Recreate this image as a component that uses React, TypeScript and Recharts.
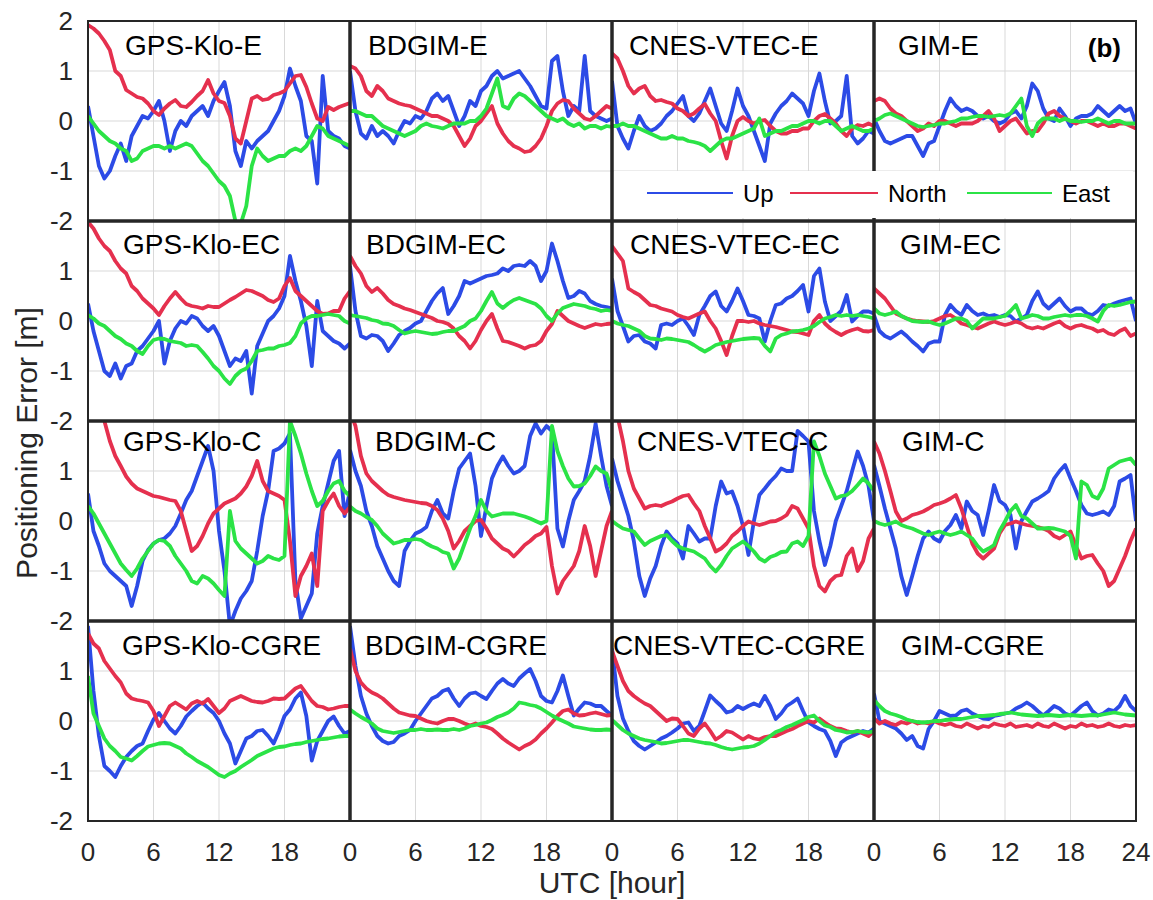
import { LineChart, Line, XAxis, YAxis, CartesianGrid } from 'recharts';

const HOURS = [
  0, 0.5, 1, 1.5, 2, 2.5, 3, 3.5, 4, 4.5, 5, 5.5,
  6, 6.5, 7, 7.5, 8, 8.5, 9, 9.5, 10, 10.5, 11, 11.5,
  12, 12.5, 13, 13.5, 14, 14.5, 15, 15.5, 16, 16.5, 17, 17.5,
  18, 18.5, 19, 19.5, 20, 20.5, 21, 21.5, 22, 22.5, 23, 23.5, 24,
];

// ---- row 1: E ----
const GPS_KLO_E_UP = [
  0.3, -0.3, -0.9, -1.15, -1.0, -0.7, -0.45, -0.8, -0.3, -0.1, 0.1, 0.05,
  0.2, 0.4, 0.0, -0.6, -0.2, 0.0, -0.1, 0.1, 0.2, 0.3, 0.1, 0.4,
  0.6, 0.78, 0.3, -0.6, -0.9, -0.4, -0.55, -0.4, -0.3, -0.2, 0.0, 0.2,
  0.5, 1.05, 0.7, 0.4, -0.3, -0.4, -1.25, 0.9, -0.2, -0.3, -0.35, -0.5, -0.55,
];
const GPS_KLO_E_NORTH = [
  1.92, 1.85, 1.75, 1.6, 1.42, 1.0, 0.9, 0.62, 0.55, 0.48, 0.45, 0.35,
  0.2, 0.12, 0.25, 0.35, 0.42, 0.3, 0.28, 0.38, 0.5, 0.6, 0.82, 0.55,
  0.4, 0.36, 0.1, -0.35, -0.45, 0.0, 0.45, 0.5, 0.42, 0.44, 0.52, 0.55,
  0.6, 0.75, 0.9, 0.92, 0.68, 0.35, 0.05, 0.0, 0.28, 0.22, 0.28, 0.32, 0.36,
];
const GPS_KLO_E_EAST = [
  0.1, -0.05, -0.2, -0.3, -0.4, -0.45, -0.55, -0.6, -0.8, -0.75, -0.6, -0.55,
  -0.5, -0.5, -0.55, -0.5, -0.55, -0.5, -0.45, -0.5, -0.65, -0.8, -0.9, -1.05,
  -1.2, -1.3, -1.5, -2.0, -2.05, -1.7, -0.9, -0.55, -0.7, -0.8, -0.75, -0.7,
  -0.7, -0.6, -0.55, -0.6, -0.5, -0.3, -0.1, -0.15, -0.3, -0.35, -0.4, -0.45, -0.5,
];
const BDGIM_E_UP = [
  1.0, 0.2, -0.25, -0.35, -0.1, -0.3, -0.2, -0.3, -0.45, -0.2, 0.0, -0.05,
  0.1, 0.05, 0.2, 0.45, 0.55, 0.4, 0.5, 0.2, -0.1, 0.1, 0.4, 0.3,
  0.6, 0.7, 0.9, 1.0, 0.85, 0.9, 0.95, 1.0, 0.85, 0.7, 0.5, 0.3,
  0.25, 1.2, 1.3, 0.6, 0.1, 0.3, 0.2, 1.3, 0.2, 0.1, 0.05, 0.0, 0.05,
];
const BDGIM_E_NORTH = [
  1.1, 1.05, 0.9, 0.6, 0.5, 0.7, 0.6, 0.45, 0.4, 0.35, 0.32, 0.3,
  0.25, 0.2, 0.15, 0.1, 0.1, 0.05, 0.0, -0.1, -0.3, -0.5, -0.35, -0.1,
  0.0, 0.15, 0.3, -0.05, -0.25, -0.4, -0.5, -0.55, -0.62, -0.6, -0.5, -0.35,
  -0.1, 0.2, 0.35, 0.42, 0.4, 0.25, 0.15, 0.05, 0.02, 0.1, 0.2, 0.3, 0.25,
];
const BDGIM_E_EAST = [
  0.2, 0.2, 0.15, 0.1, 0.1, 0.0, -0.1, -0.15, -0.2, -0.25, -0.3, -0.25,
  -0.2, -0.1, -0.05, -0.1, -0.12, -0.15, -0.1, -0.05, -0.05, -0.05, 0.0, 0.0,
  0.1, 0.25, 0.55, 0.85, 0.3, 0.25, 0.45, 0.55, 0.5, 0.4, 0.3, 0.2,
  0.1, 0.05, 0.0, 0.05, -0.05, -0.1, -0.05, -0.15, -0.1, -0.1, -0.15, -0.1, -0.12,
];
const CNES_E_UP = [
  0.8, -0.1, -0.35, -0.55, -0.2, 0.1, -0.1, -0.2, -0.15, -0.05, 0.1, 0.2,
  0.35, 0.5, 0.1, 0.0, 0.15, 0.4, 0.65, 0.3, -0.05, -0.2, 0.2, 0.65,
  0.3, 0.1, -0.2, -0.5, -0.8, -0.05, 0.15, 0.3, 0.4, 0.55, 0.45, 0.35,
  0.1, 0.6, 0.95, 0.4, -0.05, 0.0, 0.1, 0.9, -0.3, -0.45, -0.35, -0.2, -0.25,
];
const CNES_E_NORTH = [
  1.35, 1.25, 1.0, 0.7, 0.55, 0.65, 0.7, 0.5, 0.4, 0.42, 0.38, 0.35,
  0.25, 0.2, 0.1, 0.15, 0.25, 0.34, 0.15, 0.0, -0.4, -0.75, -0.3, 0.0,
  0.08, 0.0, -0.05, 0.0, 0.02, -0.1, -0.2, -0.25, -0.25, -0.2, -0.2, -0.15,
  -0.15, 0.0, 0.1, 0.14, 0.05, -0.05, -0.2, -0.3, -0.15, -0.08, -0.1, -0.05, -0.1,
];
const CNES_E_EAST = [
  -0.1, -0.1, -0.05, -0.1, -0.1, -0.15, -0.2, -0.25, -0.3, -0.35, -0.35, -0.3,
  -0.35, -0.35, -0.4, -0.42, -0.45, -0.5, -0.6, -0.5, -0.4, -0.35, -0.35, -0.3,
  -0.25, -0.2, -0.15, 0.05, -0.3, -0.25, -0.2, -0.2, -0.15, -0.1, -0.1, -0.05,
  0.0, 0.0, -0.05, 0.0, 0.0, -0.1, -0.2, -0.15, -0.1, -0.15, -0.2, -0.2, -0.15,
];
const GIM_E_UP = [
  0.05, -0.2, -0.4, -0.45, -0.4, -0.35, -0.3, -0.3, -0.5, -0.7, -0.45, -0.4,
  -0.1, 0.2, 0.45, 0.3, 0.2, 0.25, 0.2, 0.1, 0.05, 0.1, 0.0, -0.05,
  0.0, 0.15, 0.2, 0.05, 0.3, 0.75, 0.6, 0.25, 0.05, 0.0, 0.25, 0.1,
  -0.1, 0.05, 0.1, 0.1, 0.15, 0.3, 0.2, 0.1, 0.2, 0.3, 0.2, 0.25, -0.05,
];
const GIM_E_NORTH = [
  0.4, 0.45, 0.4, 0.25, 0.15, 0.1, 0.0, -0.1, -0.2, -0.15, -0.05, -0.1,
  0.0, 0.0, -0.05, -0.1, -0.05, -0.05, -0.05, 0.0, 0.1, 0.2, 0.05, -0.2,
  -0.1, 0.0, 0.05, -0.1, -0.25, -0.2, -0.2, -0.05, 0.15, 0.2, 0.1, 0.05,
  0.0, -0.05, 0.0, 0.0, -0.05, -0.1, -0.05, -0.1, -0.1, -0.05, -0.05, -0.1, -0.15,
];
const GIM_E_EAST = [
  0.0, 0.05, 0.12, 0.15, 0.1, 0.05, 0.0, -0.05, -0.1, -0.12, -0.1, -0.08,
  -0.05, -0.05, -0.02, 0.0, 0.05, 0.05, 0.08, 0.1, 0.1, 0.08, 0.1, 0.12,
  0.1, 0.15, 0.3, 0.45, -0.1, -0.3, -0.05, 0.05, 0.05, 0.05, 0.0, 0.05,
  0.0, 0.0, -0.02, 0.0, 0.0, 0.05, 0.0, -0.05, 0.0, 0.0, -0.05, -0.05, -0.05,
];

// ---- row 2: EC ----
const GPS_KLO_EC_UP = [
  0.35, -0.2, -0.6, -1.0, -1.1, -0.85, -1.15, -0.9, -0.85, -0.6, -0.5, -0.35,
  -0.2, 0.0, -0.85, -0.4, -0.15, 0.0, -0.05, 0.1, 0.05, -0.1, -0.2, -0.1,
  -0.3, -0.6, -0.9, -0.75, -0.8, -0.6, -1.45, -0.5, -0.25, 0.0, 0.1, 0.25,
  0.5, 1.3, 0.8, 0.4, -0.1, -0.9, 0.4, -0.2, -0.3, -0.4, -0.45, -0.55, -0.45,
];
const GPS_KLO_EC_NORTH = [
  1.98, 1.85, 1.65, 1.5, 1.4, 1.2, 1.05, 0.95, 0.7, 0.6, 0.45, 0.35,
  0.25, 0.12, 0.3, 0.45, 0.58, 0.45, 0.34, 0.3, 0.28, 0.25, 0.3, 0.28,
  0.28, 0.35, 0.42, 0.48, 0.55, 0.62, 0.6, 0.55, 0.5, 0.42, 0.38, 0.45,
  0.7, 0.86, 0.6, 0.5, 0.4, 0.3, 0.2, 0.14, 0.15, 0.2, 0.2, 0.45, 0.6,
];
const GPS_KLO_EC_EAST = [
  0.12, 0.05, -0.05, -0.1, -0.2, -0.3, -0.36, -0.45, -0.5, -0.6, -0.66, -0.5,
  -0.38, -0.35, -0.36, -0.4, -0.42, -0.44, -0.5, -0.48, -0.5, -0.62, -0.75, -0.9,
  -1.0, -1.15, -1.26, -1.1, -1.0, -0.95, -0.8, -0.6, -0.58, -0.55, -0.55, -0.5,
  -0.48, -0.44, -0.3, -0.05, 0.05, 0.1, 0.1, 0.12, 0.14, 0.12, 0.1, 0.0, -0.05,
];
const BDGIM_EC_UP = [
  1.1, 0.2, -0.3, -0.35, -0.28, -0.3, -0.4, -0.6, -0.45, -0.28, -0.2, -0.14,
  -0.05, 0.0, 0.2, 0.4, 0.55, 0.66, 0.14, 0.3, 0.5, 0.8, 0.75, 0.8,
  0.85, 0.9, 0.92, 0.95, 1.05, 1.0, 1.1, 1.12, 1.1, 1.2, 1.1, 0.8,
  1.0, 1.55, 1.2, 0.8, 0.46, 0.5, 0.6, 0.55, 0.4, 0.34, 0.3, 0.28, 0.25,
];
const BDGIM_EC_NORTH = [
  1.3, 1.1, 0.95, 0.7, 0.58, 0.66, 0.55, 0.42, 0.34, 0.3, 0.25, 0.22,
  0.18, 0.14, 0.1, 0.06, 0.0, -0.02, -0.06, -0.15, -0.3, -0.4, -0.55, -0.4,
  -0.18, 0.0, 0.14, -0.15, -0.4, -0.42, -0.46, -0.5, -0.55, -0.5, -0.48, -0.4,
  -0.2, -0.06, 0.2, 0.1, 0.0, -0.05, -0.1, -0.14, -0.1, -0.06, -0.08, -0.06, -0.05,
];
const BDGIM_EC_EAST = [
  0.12, 0.1, 0.08, 0.06, 0.02, 0.0, -0.05, -0.06, -0.1, -0.18, -0.25, -0.22,
  -0.2, -0.22, -0.24, -0.26, -0.25, -0.22, -0.2, -0.2, -0.15, -0.1, 0.0, 0.05,
  0.2, 0.4, 0.58, 0.35, 0.26, 0.35, 0.42, 0.46, 0.42, 0.38, 0.34, 0.25,
  0.1, 0.0, 0.15, 0.26, 0.3, 0.34, 0.32, 0.3, 0.26, 0.24, 0.2, 0.22, 0.2,
];
const CNES_EC_UP = [
  0.85, 0.2, -0.1, -0.41, -0.3, -0.28, -0.41, -0.45, -0.55, -0.08, -0.05, -0.08,
  0.0, 0.05, -0.1, -0.28, 0.12, 0.3, 0.5, 0.59, 0.3, 0.19, 0.4, 0.65,
  0.4, 0.12, 0.1, 0.05, -0.41, 0.0, 0.32, 0.35, 0.45, 0.5, 0.6, 0.72,
  0.19, 0.9, 1.05, 0.39, 0.0, 0.1, 0.2, 0.52, -0.01, 0.1, 0.19, 0.19, 0.15,
];
const CNES_EC_NORTH = [
  1.5, 1.35, 1.2, 0.65, 0.58, 0.52, 0.42, 0.32, 0.3, 0.25, 0.22, 0.19,
  0.12, 0.08, 0.05, 0.1, 0.15, 0.19, 0.0, -0.15, -0.4, -0.68, -0.3, 0.0,
  0.0, -0.02, 0.0, -0.05, -0.08, -0.1, -0.12, -0.15, -0.18, -0.21, -0.22, -0.25,
  -0.28, 0.0, 0.12, -0.05, -0.15, -0.22, -0.28, -0.22, -0.18, -0.15, -0.2, -0.21, -0.18,
];
const CNES_EC_EAST = [
  0.0, -0.05, -0.08, -0.1, -0.15, -0.2, -0.3, -0.35, -0.36, -0.38, -0.35, -0.36,
  -0.38, -0.4, -0.42, -0.48, -0.55, -0.61, -0.55, -0.48, -0.45, -0.42, -0.4, -0.38,
  -0.36, -0.35, -0.34, -0.35, -0.5, -0.61, -0.35, -0.28, -0.25, -0.21, -0.2, -0.18,
  -0.15, -0.1, -0.02, 0.05, 0.08, 0.12, 0.1, 0.12, 0.1, 0.12, 0.1, 0.08, 0.05,
];
const GIM_EC_UP = [
  0.12, -0.2, -0.3, -0.35, -0.28, -0.21, -0.3, -0.41, -0.5, -0.61, -0.45, -0.41,
  -0.41, 0.12, 0.32, 0.2, 0.12, 0.32, 0.2, 0.12, 0.15, 0.1, 0.12, 0.08,
  0.12, 0.1, -0.01, 0.05, 0.12, 0.4, 0.59, 0.35, 0.25, 0.35, 0.45, 0.3,
  0.19, 0.25, 0.25, 0.15, 0.12, 0.2, 0.32, 0.3, 0.35, 0.39, 0.42, 0.45, 0.0,
];
const GIM_EC_NORTH = [
  0.65, 0.55, 0.45, 0.3, 0.15, 0.1, 0.05, 0.02, 0.0, -0.01, -0.02, 0.0,
  0.05, 0.1, 0.12, 0.05, -0.05, -0.08, -0.12, -0.15, -0.1, -0.05, -0.01, -0.05,
  -0.08, -0.05, -0.01, -0.05, -0.12, -0.15, -0.12, -0.15, -0.1, -0.05, -0.01, -0.1,
  -0.15, -0.1, -0.08, -0.12, -0.15, -0.21, -0.18, -0.25, -0.28, -0.2, -0.15, -0.3, -0.25,
];
const GIM_EC_EAST = [
  0.25, 0.15, 0.12, 0.15, 0.19, 0.1, 0.05, 0.0, -0.01, -0.02, -0.01, -0.05,
  -0.08, -0.05, 0.0, 0.05, 0.05, 0.0, -0.15, -0.05, 0.05, 0.05, 0.05, 0.08,
  0.1, 0.2, 0.32, 0.05, 0.08, 0.12, 0.1, 0.05, 0.05, 0.08, 0.1, 0.12,
  0.1, 0.12, 0.12, 0.1, 0.05, -0.01, 0.2, 0.32, 0.3, 0.32, 0.35, 0.38, 0.39,
];

// ---- row 3: C ----
const GPS_KLO_C_UP = [
  0.55, -0.2, -0.5, -0.85, -1.0, -1.1, -1.2, -1.3, -1.7, -1.3, -0.8, -0.58,
  -0.45, -0.38, -0.35, -0.25, -0.1, 0.15, 0.42, 0.6, 0.9, 1.2, 1.5, 1.0,
  -0.2, -1.0, -2.1, -1.8, -1.55, -1.4, -1.2, -0.6, 0.1, 0.6, 1.4, 1.45,
  1.55, 1.75, -1.2, -1.95, -1.7, -1.45, -0.25, 0.3, 0.75, 1.2, 1.4, 0.1, 0.6,
];
const GPS_KLO_C_NORTH = [
  2.3, 2.2, 2.1, 2.0, 1.6, 1.3, 1.1, 0.89, 0.75, 0.65, 0.6, 0.55,
  0.5, 0.48, 0.45, 0.42, 0.4, 0.2, -0.2, -0.6, -0.5, -0.3, -0.05, 0.15,
  0.25, 0.35, 0.4, 0.45, 0.55, 0.69, 0.9, 1.2, 0.8, 0.6, 0.55, 0.5,
  0.42, -0.4, -1.5, -1.1, -0.9, -0.65, -1.3, 0.2, 0.4, 0.55, 0.3, 0.15, 0.28,
];
const GPS_KLO_C_EAST = [
  0.3, 0.15, -0.05, -0.25, -0.45, -0.65, -0.85, -0.98, -1.1, -0.95, -0.75, -0.6,
  -0.45, -0.38, -0.4, -0.5, -0.7, -0.85, -1.0, -1.2, -1.25, -1.1, -1.15, -1.25,
  -1.38, -1.5, 0.2, -0.4, -0.55, -0.65, -0.75, -0.85, -0.8, -0.7, -0.75, -0.78,
  -0.7, 2.0, 1.7, 1.35, 0.95, 0.6, 0.3, 0.4, 0.6, 0.75, 0.8, 0.6, 0.5,
];
const BDGIM_C_UP = [
  1.42, 1.0, 0.7, 0.2, -0.1, -0.5, -0.75, -1.0, -1.2, -1.3, -0.6, -0.4,
  -0.25, -0.2, -0.12, 0.2, 0.42, 0.15, 0.05, 0.6, 1.05, 1.2, 1.35, 0.7,
  -0.3, 0.3, 0.85, 1.1, 1.29, 1.1, 0.95, 1.0, 1.1, 1.7, 1.95, 1.75,
  1.9, 1.8, -0.15, -0.51, 0.0, 0.42, 0.6, 0.8, 1.3, 1.95, 1.3, 0.7, 0.3,
];
const BDGIM_C_NORTH = [
  2.2, 1.9, 1.3, 0.95, 0.8, 0.7, 0.6, 0.52, 0.48, 0.45, 0.42, 0.4,
  0.38, 0.36, 0.35, 0.3, 0.22, 0.05, -0.2, -0.55, -0.4, -0.2, -0.1, 0.0,
  0.02, -0.15, -0.35, -0.45, -0.55, -0.6, -0.71, -0.6, -0.48, -0.4, -0.3, -0.25,
  -0.12, -0.9, -1.45, -1.2, -1.05, -0.9, -0.6, -0.1, -0.5, -1.1, -0.6, -0.1, 0.2,
];
const BDGIM_C_EAST = [
  0.29, 0.2, 0.15, 0.08, 0.02, -0.1, -0.25, -0.35, -0.45, -0.42, -0.38, -0.38,
  -0.36, -0.38, -0.45, -0.51, -0.55, -0.62, -0.65, -0.95, -0.75, -0.45, -0.15, 0.1,
  0.42, 0.2, 0.09, 0.12, 0.15, 0.15, 0.15, 0.12, 0.09, 0.05, 0.0, -0.05,
  0.0, 1.9, 1.4, 1.1, 0.85, 0.69, 0.7, 0.75, 0.9, 1.09, 1.0, 0.95, 0.6,
];
const CNES_C_UP = [
  1.25, 0.8, 0.45, 0.1, -0.4, -1.1, -1.5, -1.15, -0.9, -0.5, -0.21, -0.35,
  -0.45, -0.75, -0.1, -0.25, -0.41, -0.35, -0.35, 0.3, 0.79, 0.55, 0.59, 0.3,
  -0.1, -0.68, 0.0, 0.52, 0.65, 0.79, 0.9, 1.05, 1.0, 1.0, 1.8, 1.7,
  1.59, 0.2, -0.4, -0.88, -0.5, 0.0, 0.3, 0.6, 1.0, 1.39, 1.1, 0.7, 0.0,
];
const CNES_C_NORTH = [
  2.3, 2.1, 1.6, 1.0, 0.65, 0.45, 0.25, 0.3, 0.32, 0.3, 0.35, 0.39,
  0.45, 0.5, 0.52, 0.35, 0.2, -0.1, -0.35, -0.61, -0.55, -0.45, -0.3, -0.21,
  -0.1, -0.01, -0.05, -0.08, -0.05, -0.01, 0.0, 0.05, 0.12, 0.3, 0.25, 0.05,
  -0.15, -0.9, -1.3, -1.41, -1.2, -1.1, -1.08, -0.7, -0.55, -1.0, -0.8, -0.35, -0.15,
];
const CNES_C_EAST = [
  0.0, -0.08, -0.15, -0.18, -0.21, -0.35, -0.48, -0.4, -0.35, -0.3, -0.28, -0.4,
  -0.5, -0.55, -0.58, -0.61, -0.68, -0.75, -0.9, -1.01, -0.88, -0.7, -0.55, -0.48,
  -0.41, -0.5, -0.61, -0.75, -0.81, -0.72, -0.68, -0.62, -0.61, -0.45, -0.41, -0.5,
  -0.3, 1.59, 1.3, 0.95, 0.7, 0.45, 0.5, 0.52, 0.6, 0.72, 0.85, 0.75, 0.6,
];
const GIM_C_UP = [
  1.12, 0.7, 0.25, -0.15, -0.55, -1.1, -1.48, -1.1, -0.7, -0.35, -0.21, -0.35,
  -0.41, -0.2, -0.08, 0.12, -0.15, 0.39, 0.2, 0.12, -0.28, 0.2, 0.72, 0.4,
  0.32, 0.12, -0.55, 0.0, 0.2, 0.39, 0.45, 0.52, 0.6, 0.85, 1.0, 1.12,
  0.85, 0.6, 0.32, 0.15, 0.12, 0.15, 0.19, 0.12, 0.3, 0.79, 0.85, 0.92, 0.0,
];
const GIM_C_NORTH = [
  1.59, 1.35, 1.0, 0.6, 0.19, 0.0, 0.05, 0.12, 0.15, 0.19, 0.25, 0.32,
  0.35, 0.39, 0.45, 0.52, 0.25, -0.1, -0.45, -0.65, -0.75, -0.65, -0.55, -0.25,
  -0.08, -0.05, -0.01, -0.05, -0.08, -0.1, -0.12, -0.15, -0.2, -0.3, -0.35, -0.28,
  -0.21, -0.5, -0.75, -0.7, -0.68, -0.85, -1.0, -1.3, -1.2, -0.95, -0.7, -0.4, -0.15,
];
const GIM_C_EAST = [
  0.0, -0.05, -0.08, -0.05, -0.01, -0.08, -0.12, -0.15, -0.2, -0.25, -0.28, -0.24,
  -0.21, -0.25, -0.28, -0.25, -0.21, -0.28, -0.35, -0.5, -0.61, -0.55, -0.48, -0.2,
  -0.01, 0.2, 0.32, 0.1, 0.05, -0.05, -0.15, -0.15, -0.14, -0.15, -0.18, -0.21,
  -0.3, -0.75, 0.79, 0.72, 0.5, 0.45, 0.65, 1.05, 1.12, 1.19, 1.22, 1.25, 1.12,
];

// ---- row 4: CGRE ----
const GPS_KLO_CGRE_UP = [
  1.9, 0.6, -0.3, -0.9, -1.0, -1.12, -0.9, -0.72, -0.6, -0.5, -0.45, -0.2,
  0.03, 0.16, 0.0, -0.15, -0.25, -0.1, 0.09, 0.2, 0.3, 0.37, 0.25, 0.16,
  0.0, -0.25, -0.45, -0.85, -0.6, -0.35, -0.3, -0.2, -0.18, -0.3, -0.45, -0.2,
  0.1, 0.23, 0.45, 0.57, 0.1, -0.79, -0.4, -0.2, 0.0, 0.09, -0.1, -0.25, -0.2,
];
const GPS_KLO_CGRE_NORTH = [
  1.75, 1.55, 1.45, 1.2, 1.05, 0.9, 0.77, 0.55, 0.45, 0.42, 0.4, 0.37,
  0.2, -0.1, 0.1, 0.3, 0.37, 0.3, 0.23, 0.35, 0.4, 0.35, 0.44, 0.3,
  0.16, 0.25, 0.4, 0.45, 0.5, 0.45, 0.4, 0.38, 0.37, 0.4, 0.45, 0.44,
  0.45, 0.55, 0.65, 0.7, 0.55, 0.4, 0.3, 0.28, 0.23, 0.25, 0.28, 0.3, 0.3,
];
const GPS_KLO_CGRE_EAST = [
  0.9, 0.15, -0.1, -0.35, -0.5, -0.6, -0.72, -0.75, -0.79, -0.7, -0.6, -0.51,
  -0.48, -0.45, -0.44, -0.45, -0.5, -0.55, -0.65, -0.72, -0.8, -0.86, -0.92, -1.0,
  -1.08, -1.12, -1.05, -1.0, -0.92, -0.85, -0.78, -0.7, -0.65, -0.6, -0.55, -0.52,
  -0.51, -0.48, -0.46, -0.45, -0.42, -0.4, -0.38, -0.36, -0.35, -0.33, -0.31, -0.3, -0.3,
];
const BDGIM_CGRE_UP = [
  1.9, 1.1, 0.5, 0.15, -0.1, -0.3, -0.4, -0.45, -0.42, -0.3, -0.25, -0.18,
  0.0, 0.15, 0.3, 0.45, 0.5, 0.6, 0.64, 0.45, 0.3, 0.45, 0.55, 0.57,
  0.5, 0.44, 0.6, 0.75, 0.84, 0.75, 0.7, 0.85, 0.95, 1.04, 0.8, 0.5,
  0.4, 0.37, 0.6, 0.91, 0.5, 0.11, 0.25, 0.37, 0.35, 0.3, 0.3, 0.2, 0.11,
];
const BDGIM_CGRE_NORTH = [
  1.45, 1.0, 0.77, 0.65, 0.57, 0.52, 0.45, 0.35, 0.25, 0.17, 0.14, 0.11,
  0.1, 0.05, 0.0, -0.03, -0.05, 0.0, 0.04, 0.04, 0.0, -0.05, -0.09, -0.05,
  -0.1, -0.12, -0.16, -0.25, -0.35, -0.43, -0.5, -0.57, -0.5, -0.45, -0.37, -0.25,
  -0.15, -0.03, 0.1, 0.2, 0.23, 0.15, 0.11, 0.12, 0.15, 0.17, 0.14, 0.11, 0.12,
];
const BDGIM_CGRE_EAST = [
  0.23, 0.15, 0.08, 0.02, -0.05, -0.15, -0.2, -0.22, -0.24, -0.22, -0.2, -0.18,
  -0.18, -0.16, -0.18, -0.18, -0.17, -0.18, -0.18, -0.16, -0.18, -0.15, -0.1, -0.08,
  -0.05, -0.03, 0.02, 0.08, 0.12, 0.17, 0.25, 0.37, 0.35, 0.32, 0.3, 0.25,
  0.18, 0.11, 0.05, 0.0, -0.05, -0.11, -0.13, -0.15, -0.17, -0.18, -0.18, -0.17, -0.18,
];
const CNES_CGRE_UP = [
  1.45, 0.5, 0.05, -0.2, -0.4, -0.5, -0.57, -0.5, -0.43, -0.35, -0.3, -0.23,
  -0.15, -0.05, -0.03, -0.2, -0.1, 0.2, 0.51, 0.4, 0.3, 0.17, 0.2, 0.3,
  0.24, 0.3, 0.35, 0.3, 0.5, 0.3, 0.04, 0.15, 0.3, 0.37, 0.45, 0.2,
  -0.03, -0.1, -0.16, -0.2, -0.4, -0.7, -0.43, -0.35, -0.3, -0.25, -0.2, -0.23, -0.15,
];
const CNES_CGRE_NORTH = [
  1.4, 1.1, 0.8, 0.6, 0.5, 0.42, 0.35, 0.3, 0.2, 0.1, 0.0, 0.05,
  0.04, -0.1, -0.25, -0.3, -0.15, -0.05, -0.2, -0.37, -0.3, -0.2, -0.23, -0.3,
  -0.37, -0.3, -0.35, -0.37, -0.32, -0.3, -0.3, -0.25, -0.2, -0.16, -0.1, -0.05,
  0.0, -0.03, 0.05, -0.03, -0.1, -0.15, -0.16, -0.2, -0.23, -0.2, -0.25, -0.3, -0.2,
];
const CNES_CGRE_EAST = [
  0.02, -0.08, -0.18, -0.25, -0.3, -0.35, -0.38, -0.4, -0.42, -0.45, -0.44, -0.42,
  -0.4, -0.38, -0.38, -0.4, -0.42, -0.44, -0.45, -0.48, -0.52, -0.55, -0.57, -0.55,
  -0.53, -0.52, -0.5, -0.45, -0.38, -0.3, -0.22, -0.18, -0.12, -0.08, -0.03, 0.02,
  0.08, 0.11, 0.0, -0.09, -0.12, -0.18, -0.2, -0.23, -0.22, -0.2, -0.22, -0.23, -0.2,
];
const GIM_CGRE_UP = [
  0.55, 0.0, -0.05, -0.1, -0.15, -0.25, -0.38, -0.3, -0.5, -0.55, -0.16, 0.0,
  0.2, 0.15, 0.1, 0.11, 0.2, 0.23, 0.15, 0.1, 0.05, 0.04, 0.1, 0.12,
  0.15, 0.17, 0.25, 0.3, 0.37, 0.3, 0.2, 0.11, 0.2, 0.3, 0.25, 0.15,
  0.11, 0.2, 0.3, 0.37, 0.2, 0.11, 0.15, 0.23, 0.2, 0.3, 0.5, 0.3, 0.2,
];
const GIM_CGRE_NORTH = [
  0.05, -0.05, 0.0, -0.05, -0.08, -0.02, -0.05, 0.0, -0.05, -0.03, -0.05, 0.0,
  -0.05, -0.08, -0.05, -0.1, -0.12, -0.05, -0.1, -0.15, -0.1, -0.12, -0.05, -0.08,
  -0.1, -0.05, -0.12, -0.1, -0.08, -0.12, -0.05, -0.1, -0.12, -0.05, -0.1, -0.15,
  -0.1, -0.12, -0.05, -0.1, -0.08, -0.12, -0.1, -0.05, -0.1, -0.12, -0.08, -0.1, -0.08,
];
const GIM_CGRE_EAST = [
  0.42, 0.3, 0.2, 0.15, 0.12, 0.08, 0.03, 0.0, -0.02, -0.03, -0.02, 0.0,
  0.0, 0.02, 0.03, 0.04, 0.04, 0.06, 0.08, 0.1, 0.1, 0.11, 0.12, 0.14,
  0.15, 0.17, 0.15, 0.13, 0.12, 0.11, 0.1, 0.11, 0.12, 0.11, 0.1, 0.11,
  0.12, 0.11, 0.1, 0.11, 0.12, 0.11, 0.13, 0.15, 0.17, 0.15, 0.13, 0.12, 0.11,
];

const TITLES = [
  ['GPS-Klo-E', 'BDGIM-E', 'CNES-VTEC-E', 'GIM-E'],
  ['GPS-Klo-EC', 'BDGIM-EC', 'CNES-VTEC-EC', 'GIM-EC'],
  ['GPS-Klo-C', 'BDGIM-C', 'CNES-VTEC-C', 'GIM-C'],
  ['GPS-Klo-CGRE', 'BDGIM-CGRE', 'CNES-VTEC-CGRE', 'GIM-CGRE'],
];

// [up, north, east] per panel
const SERIES = [
  [
    [GPS_KLO_E_UP, GPS_KLO_E_NORTH, GPS_KLO_E_EAST],
    [BDGIM_E_UP, BDGIM_E_NORTH, BDGIM_E_EAST],
    [CNES_E_UP, CNES_E_NORTH, CNES_E_EAST],
    [GIM_E_UP, GIM_E_NORTH, GIM_E_EAST],
  ],
  [
    [GPS_KLO_EC_UP, GPS_KLO_EC_NORTH, GPS_KLO_EC_EAST],
    [BDGIM_EC_UP, BDGIM_EC_NORTH, BDGIM_EC_EAST],
    [CNES_EC_UP, CNES_EC_NORTH, CNES_EC_EAST],
    [GIM_EC_UP, GIM_EC_NORTH, GIM_EC_EAST],
  ],
  [
    [GPS_KLO_C_UP, GPS_KLO_C_NORTH, GPS_KLO_C_EAST],
    [BDGIM_C_UP, BDGIM_C_NORTH, BDGIM_C_EAST],
    [CNES_C_UP, CNES_C_NORTH, CNES_C_EAST],
    [GIM_C_UP, GIM_C_NORTH, GIM_C_EAST],
  ],
  [
    [GPS_KLO_CGRE_UP, GPS_KLO_CGRE_NORTH, GPS_KLO_CGRE_EAST],
    [BDGIM_CGRE_UP, BDGIM_CGRE_NORTH, BDGIM_CGRE_EAST],
    [CNES_CGRE_UP, CNES_CGRE_NORTH, CNES_CGRE_EAST],
    [GIM_CGRE_UP, GIM_CGRE_NORTH, GIM_CGRE_EAST],
  ],
];

const LEGEND_NAMES = ['Up', 'North', 'East'];
// top row shows the "2" label; lower rows share that edge with the "-2" of the row above
const Y_TICKS_TOP = [-2, -1, 0, 1, 2];
const Y_TICKS = [-2, -1, 0, 1];
const X_TICKS = [0, 6, 12, 18];
const X_TICKS_LAST = [0, 6, 12, 18, 24];

// layout (page pixels)
const COL_X = [88, 350, 612, 874, 1136];
const ROW_Y = [21, 221, 421, 621, 821];
const PAD = 16;
const Y_AXIS_W = 70;
const X_AXIS_H = 56;
const TITLE_DX = [
  [37, 18, 17, 24],
  [35, 16, 18, 26],
  [35, 25, 25, 28],
  [34, 15, 1, 27],
];
const TITLE_DY = [34, 33, 30, 34];
const COLORS = ['#2c4be6', '#e5304e', '#2be346'];
const DARK = '#262626';
const FONT = '"Liberation Sans", Arial, Helvetica, sans-serif';

function Panel({ row, col }: { row: number; col: number }) {
  const [up, north, east] = SERIES[row][col];
  const data = HOURS.map((hour, i) => ({ hour, up: up[i], north: north[i], east: east[i] }));
  const showY = col === 0;
  const showX = row === 3;
  const yw = showY ? Y_AXIS_W : 0;
  const xh = showX ? X_AXIS_H : 0;
  const w = COL_X[col + 1] - COL_X[col];
  const h = ROW_Y[row + 1] - ROW_Y[row];

  return (
    <div style={{ position: 'absolute', left: COL_X[col] - PAD - yw, top: ROW_Y[row] - PAD }}>
      <LineChart
        width={w + 2 * PAD + yw}
        height={h + 2 * PAD + xh}
        data={data}
        margin={{ top: PAD, right: PAD, bottom: PAD, left: PAD }}
      >
        <CartesianGrid stroke="#d9d9d9" strokeWidth={1} />
        <XAxis
          dataKey="hour"
          type="number"
          domain={[0, 24]}
          ticks={col === 3 ? X_TICKS_LAST : X_TICKS}
          interval={0}
          allowDataOverflow
          hide={!showX}
          height={xh}
          axisLine={false}
          tickLine={false}
          tickSize={0}
          tickMargin={22}
          tick={{ fill: DARK, fontSize: 26 }}
        />
        <YAxis
          type="number"
          domain={[-2, 2]}
          ticks={row === 0 ? Y_TICKS_TOP : Y_TICKS}
          interval={0}
          allowDataOverflow
          hide={!showY}
          width={yw}
          axisLine={false}
          tickLine={false}
          tickSize={0}
          tickMargin={15}
          tick={{ fill: DARK, fontSize: 26 }}
        />
        {['up', 'north', 'east'].map((key, i) => (
          <Line
            key={key}
            dataKey={key}
            name={LEGEND_NAMES[i]}
            type="linear"
            stroke={COLORS[i]}
            strokeWidth={3.8}
            strokeLinejoin="round"
            dot={false}
            isAnimationActive={false}
          />
        ))}
      </LineChart>
    </div>
  );
}

export default function App() {
  const legendItems = [
    { x1: 647, x2: 733, tx: 743 },
    { x1: 790, x2: 878, tx: 888 },
    { x1: 967, x2: 1052, tx: 1062 },
  ];

  return (
    <div
      style={{
        position: 'absolute',
        left: 0,
        top: 0,
        width: 1153,
        height: 900,
        background: '#fff',
        fontFamily: FONT,
      }}
    >
      {TITLES.map((r, row) => r.map((_, col) => <Panel key={`${row}-${col}`} row={row} col={col} />))}

      <svg
        width={1153}
        height={900}
        style={{ position: 'absolute', left: 0, top: 0, pointerEvents: 'none' }}
      >
        {/* panel frames */}
        <rect x={COL_X[0]} y={ROW_Y[0]} width={COL_X[4] - COL_X[0]} height={ROW_Y[4] - ROW_Y[0]} fill="none" stroke={DARK} strokeWidth={2} />
        {COL_X.slice(1, 4).map((x) => (
          <line key={`v${x}`} x1={x} x2={x} y1={ROW_Y[0]} y2={ROW_Y[4]} stroke={DARK} strokeWidth={3.5} />
        ))}
        {ROW_Y.slice(1, 4).map((y) => (
          <line key={`h${y}`} x1={COL_X[0]} x2={COL_X[4]} y1={y} y2={y} stroke={DARK} strokeWidth={3.5} />
        ))}

        {/* panel titles */}
        {TITLES.map((r, row) =>
          r.map((title, col) => (
            <text
              key={title}
              x={COL_X[col] + TITLE_DX[row][col]}
              y={ROW_Y[row] + TITLE_DY[row]}
              fontSize={28}
              fill="#000"
            >
              {title}
            </text>
          )),
        )}

        <text x={1121} y={57} fontSize={26} fontWeight="bold" textAnchor="end" fill="#000">
          (b)
        </text>

        {/* legend */}
        <rect x={614} y={171} width={519} height={47} fill="#fff" />
        {legendItems.map((it, i) => (
          <g key={LEGEND_NAMES[i]}>
            <line x1={it.x1} x2={it.x2} y1={193} y2={193} stroke={COLORS[i]} strokeWidth={2} />
            <text x={it.tx} y={202} fontSize={24} fill="#000">
              {LEGEND_NAMES[i]}
            </text>
          </g>
        ))}

        {/* axis titles */}
        <text x={612} y={893} fontSize={30} textAnchor="middle" fill={DARK}>
          UTC [hour]
        </text>
        <text transform="translate(37,443) rotate(-90)" fontSize={30} textAnchor="middle" fill={DARK}>
          Positioning Error [m]
        </text>
      </svg>
    </div>
  );
}
